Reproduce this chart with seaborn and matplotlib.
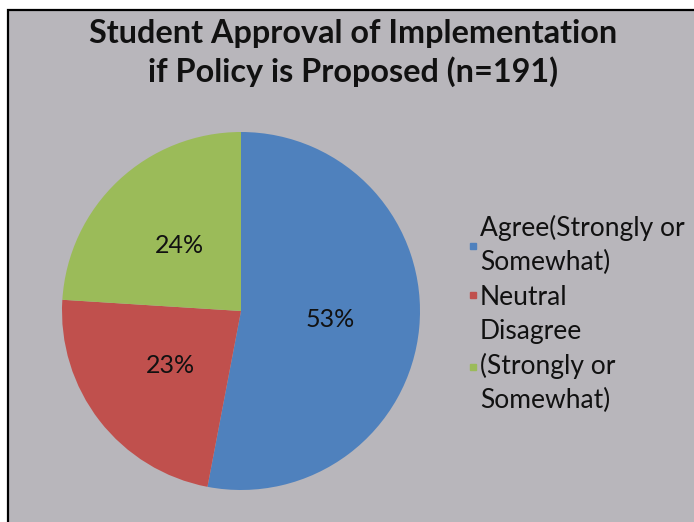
import matplotlib
matplotlib.use("Agg")
import matplotlib.pyplot as plt
import seaborn as sns
from matplotlib.patches import Rectangle
from matplotlib.lines import Line2D

categories = ["Agree(Strongly or\nSomewhat)", "Neutral", "Disagree\n(Strongly or\nSomewhat)"]
values = [53, 23, 24]
title = "Student Approval of Implementation\nif Policy is Proposed (n=191)"

sns.set_theme(style="white")
plt.rcParams['font.family'] = ['Lato', 'DejaVu Sans']
palette = sns.color_palette(["#4F81BD", "#C0504D", "#9BBB59"])

W, H = 694, 522
fig = plt.figure(figsize=(W / 100, H / 100), dpi=100)
fig.patch.set_facecolor("white")
bg = "#b8b6bb"
fig.patches.append(Rectangle((8 / W, -0.05), 1.2, 1 - 10 / H + 0.05, transform=fig.transFigure,
                             facecolor=bg, edgecolor="black", linewidth=1.6, zorder=-10))

cx, cy, r = 241, 311, 179
ax = fig.add_axes([(cx - r) / W, (H - cy - r) / H, 2 * r / W, 2 * r / H])
ax.set_zorder(5)
ax.set_facecolor("none")
wedges, texts, autotexts = ax.pie(values, colors=palette, startangle=90, counterclock=False,
                                  autopct="%.0f%%", pctdistance=0.5, radius=1,
                                  wedgeprops=dict(linewidth=0, edgecolor="none"),
                                  textprops=dict(fontsize=18, color="#111111"))
ax.set_xlim(-1, 1)
ax.set_ylim(-1, 1)
ax.axis("off")

fig.text(353 / W, 1 - 53 / H, title, ha="center", va="center", fontsize=23.3,
         fontweight="bold", linespacing=1.3, color="#111111")

handles = [Line2D([], [], marker="s", linestyle="none", markersize=4.5, color=c) for c in palette]
leg = fig.legend(handles, categories, loc="upper left", bbox_to_anchor=(468 / W, 1 - 215 / H),
                 frameon=False, fontsize=19, handlelength=0.4, handletextpad=0.05,
                 labelspacing=0.36, borderaxespad=0, borderpad=0)
for t in leg.get_texts():
    t.set_linespacing(1.44)
    t.set_color("#111111")

fig.savefig("out.png", dpi=100, facecolor=fig.get_facecolor())
